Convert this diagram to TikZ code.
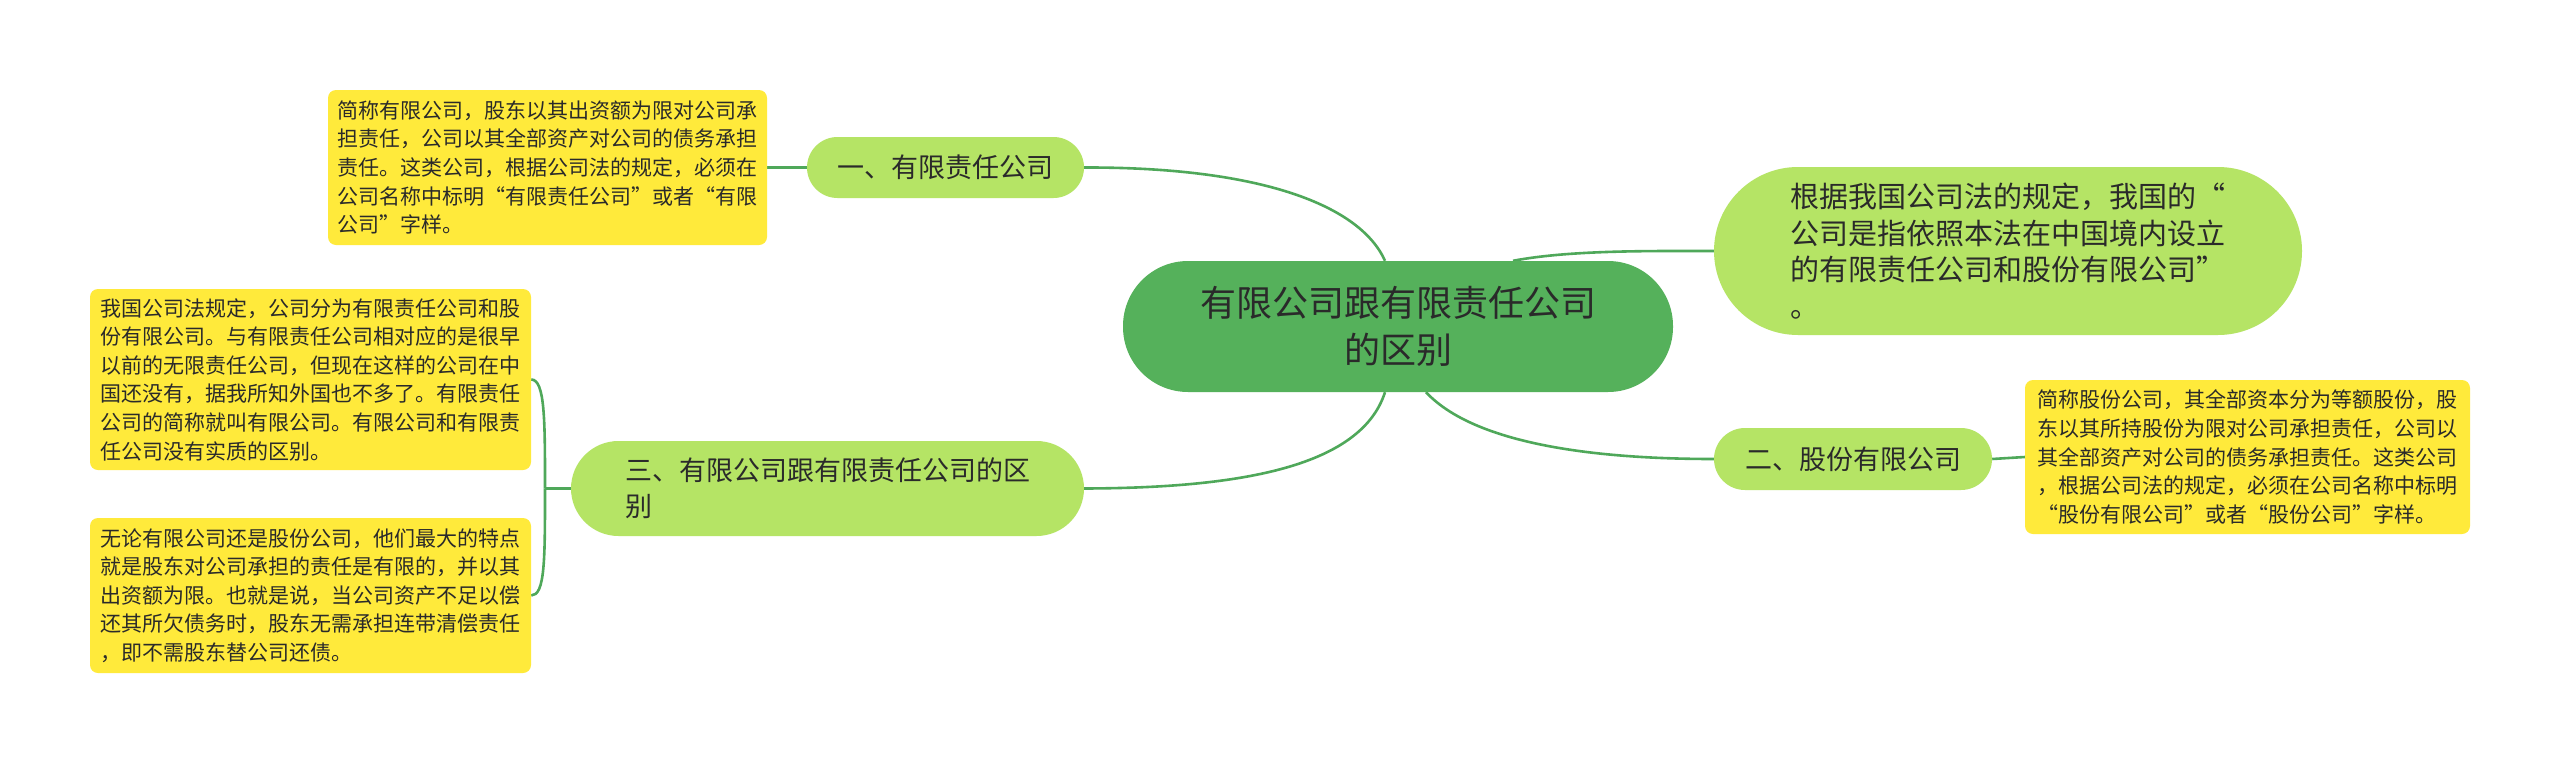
\documentclass[tikz,border=0pt]{standalone}
\usepackage{fontspec}
\setmainfont{Noto Sans CJK SC}
\usetikzlibrary{calc,backgrounds}
\definecolor{rootgreen}{HTML}{55B15B}
\definecolor{leafgreen}{HTML}{B5E465}
\definecolor{noteyellow}{HTML}{FFEA3B}
\definecolor{linkgreen}{HTML}{4FA85A}
\definecolor{inkgray}{HTML}{2A2A2A}

\begin{document}
\begin{tikzpicture}[x=1pt, y=-1pt,
    rootbox/.style={fill=rootgreen, inner sep=0, text=inkgray, align=center,
        minimum width=550pt, minimum height=131pt, rounded corners=65pt,
        font=\fontsize{36}{47}\selectfont},
    topic/.style={fill=leafgreen, inner sep=0, text=inkgray, align=left,
        font=\fontsize{27}{36}\selectfont},
    note/.style={fill=noteyellow, rounded corners=8pt, inner sep=0, text=inkgray,
        align=left, font=\fontsize{21}{28.6}\selectfont},
    edgeline/.style={draw=linkgreen, line width=2.6pt}
]
\useasboundingbox (0,0) rectangle (2560,763);

% Centre
\node[rootbox] (root) at (1398,326.5) {有限公司跟有限责任公司\\的区别};

% Topics
\node[topic, minimum width=277pt, minimum height=61pt, rounded corners=30.5pt]
    (lim) at (945.5,167.5) {一、有限责任公司};
\node[topic, minimum width=588pt, minimum height=168pt, rounded corners=84pt,
    font=\fontsize{29}{36.5}\selectfont]
    (law) at (2008,251) {根据我国公司法的规定，我国的“\\公司是指依照本法在中国境内设立\\的有限责任公司和股份有限公司”\\。};
\node[topic, minimum width=278pt, minimum height=62pt, rounded corners=31pt]
    (share) at (1853,459) {二、股份有限公司};
\node[topic, minimum width=513pt, minimum height=95pt, rounded corners=47.5pt]
    (diff) at (827.5,488.5) {三、有限公司跟有限责任公司的区\\别};

% Notes
\node[note, minimum width=439pt, minimum height=155pt] (limnote) at (547.5,167.5)
    {简称有限公司，股东以其出资额为限对公司承\\担责任，公司以其全部资产对公司的债务承担\\责任。这类公司，根据公司法的规定，必须在\\公司名称中标明“有限责任公司”或者“有限\\公司”字样。};
\node[note, minimum width=445pt, minimum height=154pt] (sharenote) at (2247.5,457)
    {简称股份公司，其全部资本分为等额股份，股\\东以其所持股份为限对公司承担责任，公司以\\其全部资产对公司的债务承担责任。这类公司\\，根据公司法的规定，必须在公司名称中标明\\“股份有限公司”或者“股份公司”字样。};
\node[note, minimum width=441pt, minimum height=181pt] (diffnotea) at (310.5,379.5)
    {我国公司法规定，公司分为有限责任公司和股\\份有限公司。与有限责任公司相对应的是很早\\以前的无限责任公司，但现在这样的公司在中\\国还没有，据我所知外国也不多了。有限责任\\公司的简称就叫有限公司。有限公司和有限责\\任公司没有实质的区别。};
\node[note, minimum width=441pt, minimum height=155pt] (diffnoteb) at (310.5,595.5)
    {无论有限公司还是股份公司，他们最大的特点\\就是股东对公司承担的责任是有限的，并以其\\出资额为限。也就是说，当公司资产不足以偿\\还其所欠债务时，股东无需承担连带清偿责任\\，即不需股东替公司还债。};

% Connectors
\begin{scope}[on background layer]
\fill[white] (0,0) rectangle (2560,763);
\draw[edgeline] (lim.east) .. controls (1260,167) and (1360,205) .. ($(root.north)+(-13,0)$);
\draw[edgeline] ($(root.north)+(115,0)$) .. controls (1570,250) and (1650,251) .. (law.west);
\draw[edgeline] ($(root.south)+(28,0)$) .. controls (1480,450) and (1620,459) .. (share.west);
\draw[edgeline] ($(root.south)+(-13,0)$) .. controls (1360,470) and (1230,488) .. (diff.east);
\draw[edgeline] (lim.west) -- (limnote.east);
\draw[edgeline] (share.east) -- (sharenote.west);
\coordinate (fork) at (545,488.5);
\draw[edgeline] (diff.west) -- (fork);
\draw[edgeline] (fork) .. controls (545,420) and (545,379.5) .. (diffnotea.east);
\draw[edgeline] (fork) .. controls (545,560) and (545,595.5) .. (diffnoteb.east);
\end{scope}
\end{tikzpicture}
\end{document}
